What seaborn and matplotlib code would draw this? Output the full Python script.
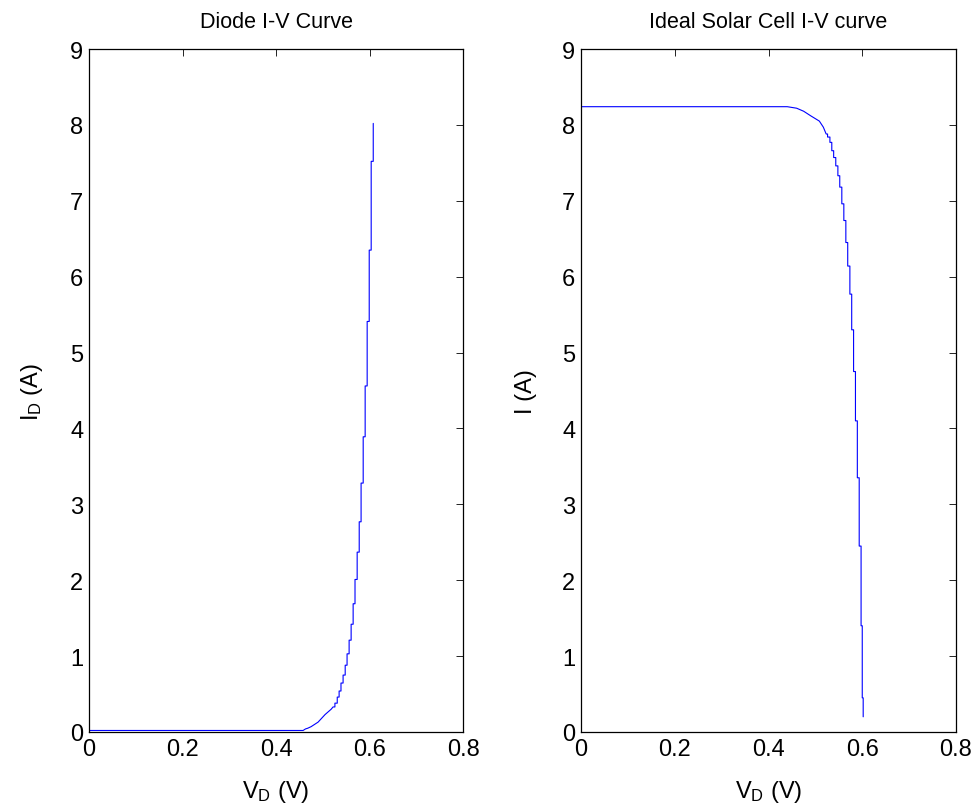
import numpy as np
import pandas as pd
import matplotlib
matplotlib.use("Agg")
import matplotlib.pyplot as plt
import seaborn as sns

# --- data ---
# diode curve: smooth low part, then the staircase (voltage level, current at top of each riser)
diode_v_low = [0.0, 0.458, 0.463, 0.468, 0.475, 0.49, 0.505, 0.518, 0.522]
diode_i_low = [0.02, 0.02, 0.04, 0.05, 0.07, 0.13, 0.23, 0.30, 0.33]
diode_step_v = [0.526, 0.531, 0.535, 0.539, 0.5435, 0.548, 0.552, 0.5564, 0.5607, 0.565,
                0.569, 0.5736, 0.578, 0.582, 0.5865, 0.5907, 0.595, 0.5994, 0.6036, 0.608]
diode_step_i = [0.38, 0.46, 0.54, 0.645, 0.75, 0.88, 1.03, 1.21, 1.42, 1.69,
                2.01, 2.37, 2.77, 3.28, 3.89, 4.56, 5.41, 6.35, 7.52, 8.02]

# solar cell curve: flat part + knee, then the staircase (current at bottom of each riser)
cell_v_low = [0.0, 0.44, 0.46, 0.475, 0.49, 0.5085, 0.517, 0.523]
cell_i_low = [8.24, 8.24, 8.22, 8.18, 8.12, 8.05, 7.97, 7.88]
cell_step_v = [0.526, 0.531, 0.535, 0.539, 0.5435, 0.548, 0.552, 0.5564, 0.5607, 0.565,
               0.569, 0.5736, 0.5775, 0.5815, 0.5855, 0.5895, 0.5935, 0.5975, 0.600, 0.602]
cell_step_i = [7.84, 7.77, 7.66, 7.57, 7.46, 7.33, 7.18, 6.96, 6.74, 6.45,
               6.14, 5.77, 5.30, 4.75, 4.10, 3.35, 2.45, 1.40, 0.45, 0.20]


def stairs(v_low, i_low, v_steps, i_steps):
    # each step: riser at v_steps[k] from previous current to i_steps[k]
    prev = [i_low[-1]] + list(i_steps[:-1])
    sv = np.repeat(v_steps, 2)
    si = np.ravel(np.column_stack([prev, i_steps]))
    v = np.concatenate([v_low, sv])
    i = np.concatenate([i_low, si])
    return pd.DataFrame({"V": v, "I": i})


diode_df = stairs(diode_v_low, diode_i_low, diode_step_v, diode_step_i)
cell_df = stairs(cell_v_low, cell_i_low, cell_step_v, cell_step_i)

sns.set_theme(style="white")
plt.rcParams["font.family"] = ["Liberation Sans", "DejaVu Sans"]
plt.rcParams["mathtext.fontset"] = "custom"
plt.rcParams["mathtext.rm"] = "Liberation Sans"
plt.rcParams["mathtext.it"] = "Liberation Sans"
plt.rcParams["mathtext.default"] = "regular"
plt.rcParams["text.color"] = "black"
plt.rcParams["axes.labelcolor"] = "black"

fig = plt.figure(figsize=(9.77, 8.12), dpi=100)
ax1 = fig.add_axes([0.0911, 0.0973, 0.3828, 0.8411])
ax2 = fig.add_axes([0.5947, 0.0973, 0.3838, 0.8411])

sns.lineplot(data=diode_df, x="V", y="I", sort=False, estimator=None,
             color="#0000ff", linewidth=0.8, ax=ax1)
sns.lineplot(data=cell_df, x="V", y="I", sort=False, estimator=None,
             color="#0000ff", linewidth=0.8, ax=ax2)

titles = ["Diode I-V Curve", "Ideal Solar Cell I-V curve"]
ylabels = ["I$_D$ (A)", "I (A)"]
for ax, t, yl in zip([ax1, ax2], titles, ylabels):
    ax.set_xlim(0, 0.8)
    ax.set_ylim(0, 9)
    ax.set_xticks([0, 0.2, 0.4, 0.6, 0.8])
    ax.set_xticklabels(["0", "0.2", "0.4", "0.6", "0.8"])
    ax.set_yticks(range(10))
    ax.tick_params(direction="in", top=True, right=True, length=5, width=0.6,
                   labelsize=17, pad=4, colors="black")
    for s in ax.spines.values():
        s.set_visible(True)
        s.set_color("black")
        s.set_linewidth(0.9)
    ax.set_title(t, fontsize=15.5, pad=16, color="black")
    ax.set_xlabel("V$_D$ (V)", fontsize=17, labelpad=13)
    ax.set_ylabel(yl, fontsize=17, labelpad=18)

fig.savefig("out.png", dpi=100, facecolor="white")
